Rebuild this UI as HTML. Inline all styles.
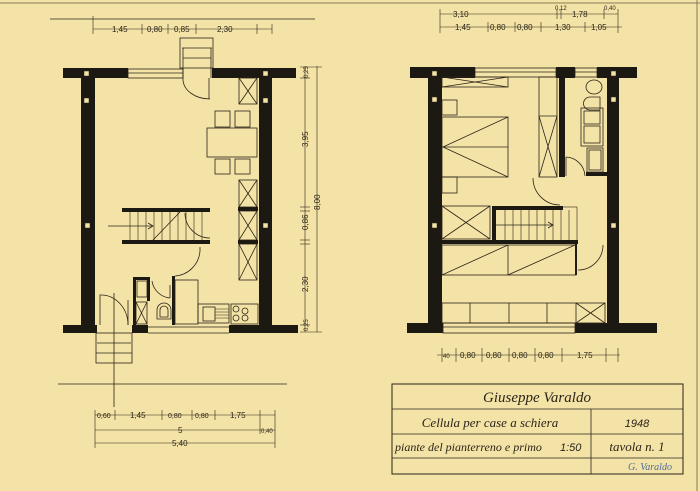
<!DOCTYPE html>
<html><head><meta charset="utf-8">
<style>
html,body{margin:0;padding:0;background:#f4e3a7;}
svg{display:block}
text{font-family:"Liberation Sans",sans-serif;fill:#2a2418}
.s{font-family:"Liberation Serif",serif;font-style:italic}
</style></head><body>
<svg width="700" height="491" viewBox="0 0 700 491" xmlns="http://www.w3.org/2000/svg">
<rect width="700" height="491" fill="#f4e3a7"/>
<line x1="0" y1="3" x2="700" y2="3" stroke="#8a7a55" stroke-width="1"/>
<line x1="697" y1="0" x2="697" y2="491" stroke="#8a7a55" stroke-width="1"/>

<g stroke="#2a2418" fill="none" stroke-width="0.8">
<!-- ================= LEFT PLAN ================= -->
<!-- walls -->
<g fill="#1c1812" stroke="none">
<rect x="63" y="68" width="65" height="10"/>
<rect x="212" y="68" width="84" height="10"/>
<rect x="81" y="68" width="14" height="265"/>
<rect x="259" y="68" width="13" height="265"/>
<rect x="63" y="325" width="34" height="8"/>
<rect x="132" y="325" width="16" height="8"/>
<rect x="229" y="325" width="69" height="8"/>
<rect x="238" y="207" width="20" height="4"/>
<rect x="238" y="240" width="20" height="4"/>
<rect x="122" y="208" width="88" height="4"/>
<rect x="122" y="240" width="88" height="4"/>
<rect x="133" y="277" width="17" height="3"/>
<rect x="133" y="277" width="3" height="48"/>
<rect x="147" y="277" width="3" height="24"/>
<rect x="172" y="276" width="3" height="49"/>
</g>
<g fill="#f4e3a7" stroke="#2a2418" stroke-width="0.5">
<rect x="84" y="71" width="5" height="5"/><rect x="263" y="71" width="5" height="5"/>
<rect x="84" y="98" width="5" height="5"/><rect x="263" y="98" width="5" height="5"/>
<rect x="85" y="223" width="5" height="5"/><rect x="263" y="223" width="5" height="5"/>
</g>
<!-- window top -->
<rect x="128" y="69" width="55" height="9"/>
<line x1="128" y1="73" x2="183" y2="73"/>
<!-- entrance top steps -->
<rect x="180" y="38" width="33" height="30"/>
<line x1="182" y1="48" x2="212" y2="48"/><line x1="183" y1="58" x2="211" y2="58"/>
<line x1="183" y1="48" x2="183" y2="78"/><line x1="211" y1="48" x2="211" y2="78"/>
<path d="M183 78 L183 80 A27 20 0 0 0 210 99"/>
<line x1="209" y1="78" x2="209" y2="99"/>
<!-- cabinets right -->
<rect x="239" y="78" width="18" height="26"/><path d="M239 78 L257 104 M257 78 L239 104"/>
<rect x="239" y="180" width="18" height="27"/><path d="M239 180 L257 207 M257 180 L239 207"/>
<rect x="239" y="211" width="18" height="29"/><path d="M239 211 L257 240 M257 211 L239 240"/>
<rect x="239" y="244" width="18" height="36"/><path d="M239 244 L257 280 M257 244 L239 280"/>
<!-- table & chairs -->
<rect x="207" y="128" width="50" height="29"/>
<rect x="215" y="111" width="15" height="16"/><rect x="235" y="111" width="15" height="16"/>
<rect x="215" y="159" width="15" height="15"/><rect x="235" y="159" width="15" height="15"/>
<!-- stair -->
<g stroke-width="0.6">
<line x1="130" y1="212" x2="130" y2="240"/><line x1="138" y1="212" x2="138" y2="240"/>
<line x1="146" y1="212" x2="146" y2="240"/><line x1="154" y1="212" x2="154" y2="240"/>
<line x1="162" y1="212" x2="162" y2="240"/><line x1="170" y1="212" x2="170" y2="240"/>
<line x1="178" y1="212" x2="178" y2="240"/><line x1="186" y1="212" x2="186" y2="240"/>
<line x1="194" y1="212" x2="194" y2="240"/><line x1="202" y1="212" x2="202" y2="240"/>
</g>
<line x1="108" y1="226" x2="153" y2="226"/><path d="M148 223 L153 226 L148 229"/>
<line x1="153" y1="240" x2="180" y2="212"/>
<path d="M185 213 A25 25 0 0 0 210 238"/>
<!-- lower door -->
<path d="M175 276 A27 27 0 0 0 200 251"/><line x1="200" y1="251" x2="200" y2="247"/>
<!-- WC -->
<rect x="137" y="281" width="10" height="16"/>
<rect x="136" y="302" width="11" height="22"/><path d="M136 302 L147 324 M147 302 L136 324"/>
<path d="M152 281 A20 20 0 0 0 170 298"/><line x1="170" y1="285" x2="170" y2="298"/>
<path d="M157 319 L157 310 A7 7 0 0 1 171 310 L171 319 Z"/>
<path d="M160 317 L160 310 A4 4 0 0 1 168 310 L168 317 Z"/>
<!-- kitchen -->
<rect x="175" y="280" width="23" height="44"/>
<rect x="198" y="304" width="31" height="19"/>
<rect x="203" y="307" width="12" height="14"/>
<g stroke-width="0.5"><line x1="215" y1="309" x2="229" y2="309"/><line x1="215" y1="312" x2="229" y2="312"/><line x1="215" y1="315" x2="229" y2="315"/><line x1="215" y1="318" x2="229" y2="318"/></g>
<rect x="231" y="304" width="27" height="20"/>
<circle cx="236" cy="309" r="3"/><circle cx="245" cy="311" r="3"/><circle cx="236" cy="318" r="3"/><circle cx="245" cy="318" r="3"/>
<line x1="148" y1="327" x2="229" y2="327"/><line x1="148" y1="333" x2="229" y2="333"/>
<!-- entrance lower -->
<path d="M100 325 L100 295 A27 30 0 0 1 128 325"/>
<line x1="128" y1="300" x2="128" y2="325"/>
<rect x="96" y="333" width="36" height="30"/>
<line x1="97" y1="343" x2="131" y2="343"/><line x1="96" y1="353" x2="132" y2="353"/>
<line x1="114" y1="293" x2="114" y2="407"/>
<line x1="58" y1="384" x2="287" y2="384"/>
<!-- dims top-left -->
<line x1="50" y1="19" x2="315" y2="19"/>
<line x1="93" y1="29" x2="272" y2="29" stroke-width="0.6"/>
<g stroke-width="0.6">
<line x1="93" y1="16" x2="93" y2="34"/><line x1="142" y1="24" x2="142" y2="34"/><line x1="168" y1="24" x2="168" y2="34"/><line x1="196" y1="24" x2="196" y2="34"/><line x1="257" y1="24" x2="257" y2="34"/><line x1="272" y1="24" x2="272" y2="34"/>
</g>
<!-- dims right vertical -->
<line x1="305" y1="66" x2="305" y2="332" stroke-width="0.6"/>
<line x1="317" y1="66" x2="317" y2="332" stroke-width="0.6"/>
<g stroke-width="0.6"><line x1="300" y1="67" x2="322" y2="67"/><line x1="300" y1="78" x2="310" y2="78"/><line x1="300" y1="207" x2="310" y2="207"/><line x1="300" y1="211" x2="310" y2="211"/><line x1="300" y1="240" x2="310" y2="240"/><line x1="300" y1="244" x2="310" y2="244"/><line x1="300" y1="325" x2="310" y2="325"/><line x1="300" y1="332" x2="322" y2="332"/></g>
<!-- dims bottom -->
<g stroke-width="0.6">
<line x1="95" y1="415" x2="275" y2="415"/><line x1="95" y1="430" x2="275" y2="430"/><line x1="95" y1="443" x2="275" y2="443"/>
<line x1="95" y1="410" x2="95" y2="448"/><line x1="115" y1="410" x2="115" y2="420"/><line x1="162" y1="410" x2="162" y2="420"/><line x1="192" y1="410" x2="192" y2="420"/><line x1="215" y1="410" x2="215" y2="420"/><line x1="260" y1="410" x2="260" y2="434"/><line x1="275" y1="410" x2="275" y2="448"/>
</g>

<!-- ================= RIGHT PLAN ================= -->
<g fill="#1c1812" stroke="none">
<rect x="410" y="67" width="65" height="11"/>
<rect x="556" y="67" width="19" height="11"/>
<rect x="597" y="67" width="40" height="11"/>
<rect x="428" y="67" width="14" height="266"/>
<rect x="607" y="67" width="12" height="266"/>
<rect x="559" y="77" width="6" height="100"/>
<rect x="586" y="172" width="21" height="4"/>
<rect x="407" y="323" width="36" height="10"/>
<rect x="575" y="323" width="82" height="10"/>
<rect x="492" y="206" width="71" height="4"/>
<rect x="492" y="206" width="4" height="36"/>
<rect x="442" y="240" width="136" height="4"/>
<rect x="575" y="244" width="2" height="31"/>
</g>
<g fill="#f4e3a7" stroke="#2a2418" stroke-width="0.5">
<rect x="432" y="71" width="5" height="5"/><rect x="611" y="71" width="5" height="5"/>
<rect x="432" y="97" width="5" height="5"/><rect x="611" y="97" width="5" height="5"/>
<rect x="432" y="223" width="5" height="5"/><rect x="611" y="223" width="5" height="5"/>
</g>
<rect x="475" y="68" width="81" height="9"/><line x1="475" y1="72" x2="556" y2="72"/>
<rect x="575" y="68" width="22" height="9"/><line x1="575" y1="72" x2="597" y2="72"/>
<!-- bedroom -->
<rect x="442" y="77" width="66" height="10"/><path d="M442 77 L508 87 M508 77 L442 87"/>
<rect x="442" y="100" width="15" height="15"/>
<rect x="442" y="117" width="66" height="60"/><line x1="442" y1="147" x2="508" y2="147"/>
<path d="M508 117 L443 147 L508 177"/>
<rect x="442" y="177" width="15" height="16"/>
<rect x="539" y="77" width="18" height="100"/><line x1="539" y1="116" x2="557" y2="116"/>
<path d="M539 116 L557 177 M557 116 L539 177"/>
<path d="M533 178 A27 27 0 0 0 560 205"/>
<!-- bath -->
<ellipse cx="594" cy="87" rx="8" ry="7"/>
<path d="M600 110 L590 110 A6 6 0 0 1 590 97 L600 97 Z"/>
<rect x="581" y="108" width="22" height="38"/><rect x="584" y="111" width="16" height="13"/><rect x="584" y="126" width="16" height="17"/>
<rect x="587" y="148" width="16" height="24"/><rect x="589" y="150" width="12" height="20"/>
<path d="M566 157 A20 20 0 0 1 585 176"/><line x1="566" y1="157" x2="566" y2="176"/>
<!-- lower -->
<rect x="442" y="206" width="48" height="33"/><path d="M442 206 L490 239 M490 206 L442 239"/>
<g stroke-width="0.6">
<line x1="505" y1="210" x2="505" y2="240"/><line x1="513" y1="210" x2="513" y2="240"/><line x1="521" y1="210" x2="521" y2="240"/><line x1="529" y1="210" x2="529" y2="240"/><line x1="537" y1="210" x2="537" y2="240"/><line x1="545" y1="210" x2="545" y2="240"/><line x1="553" y1="210" x2="553" y2="240"/><line x1="561" y1="210" x2="561" y2="240"/><line x1="569" y1="210" x2="569" y2="240"/><line x1="577" y1="207" x2="577" y2="240"/>
<line x1="563" y1="207" x2="577" y2="207"/>
</g>
<line x1="496" y1="225" x2="553" y2="225"/><path d="M548 222 L553 225 L548 228"/>
<rect x="442" y="245" width="134" height="30"/><line x1="508" y1="245" x2="508" y2="275"/>
<path d="M442 275 L508 245 M508 275 L575 245"/>
<path d="M578 270 A25 25 0 0 0 603 245"/>
<rect x="442" y="303" width="163" height="20"/>
<line x1="470" y1="303" x2="470" y2="323"/><line x1="509" y1="303" x2="509" y2="323"/><line x1="547" y1="303" x2="547" y2="323"/><line x1="576" y1="303" x2="576" y2="323"/>
<path d="M576 303 L605 323 M605 303 L576 323"/>
<rect x="443" y="323" width="132" height="10"/><line x1="443" y1="327" x2="575" y2="327"/>
<!-- dims top right -->
<g stroke-width="0.6">
<line x1="440" y1="14" x2="618" y2="14"/><line x1="440" y1="27" x2="622" y2="27"/>
<line x1="440" y1="9" x2="440" y2="33"/><line x1="557" y1="9" x2="557" y2="19"/><line x1="561" y1="9" x2="561" y2="19"/><line x1="604" y1="9" x2="604" y2="19"/><line x1="618" y1="9" x2="618" y2="33"/>
<line x1="488" y1="22" x2="488" y2="32"/><line x1="515" y1="22" x2="515" y2="32"/><line x1="541" y1="22" x2="541" y2="32"/><line x1="585" y1="22" x2="585" y2="32"/>
<!-- dims bottom right -->
<line x1="437" y1="355" x2="620" y2="355"/>
<line x1="442" y1="348" x2="442" y2="362"/><line x1="456" y1="348" x2="456" y2="362"/><line x1="482" y1="348" x2="482" y2="362"/><line x1="509" y1="348" x2="509" y2="362"/><line x1="535" y1="348" x2="535" y2="362"/><line x1="562" y1="348" x2="562" y2="362"/><line x1="606" y1="348" x2="606" y2="362"/><line x1="618" y1="348" x2="618" y2="362"/>
</g>
<!-- title block -->
<rect x="392" y="384" width="291" height="90" stroke-width="1"/>
<line x1="392" y1="409" x2="683" y2="409"/><line x1="392" y1="434" x2="683" y2="434"/><line x1="392" y1="458" x2="683" y2="458"/>
<line x1="591" y1="409" x2="591" y2="474"/>
</g>

<!-- dimension texts -->
<g font-size="8">
<text x="112" y="32">1,45</text><text x="147" y="32">0,80</text><text x="174" y="32">0,85</text><text x="217" y="32">2,30</text>
<text x="453" y="17">3,10</text><text x="555" y="10" font-size="6">0,12</text><text x="572" y="17">1,78</text><text x="604" y="10" font-size="6">0,40</text>
<text x="455" y="30">1,45</text><text x="490" y="30">0,80</text><text x="517" y="30">0,80</text><text x="555" y="30">1,30</text><text x="591" y="30">1,05</text>
<text x="443" y="358" font-size="6">40</text><text x="460" y="358">0,80</text><text x="486" y="358">0,80</text><text x="512" y="358">0,80</text><text x="538" y="358">0,80</text><text x="577" y="358">1,75</text>
<text x="97" y="418" font-size="7">0,60</text><text x="130" y="418">1,45</text><text x="168" y="418" font-size="7">0,80</text><text x="195" y="418" font-size="7">0,80</text><text x="230" y="418">1,75</text>
<text x="178" y="433">5</text><text x="261" y="433" font-size="6">0,40</text><text x="172" y="446">5,40</text>
</g>
<g font-size="8">
<text transform="translate(308,147) rotate(-90)">3,95</text>
<text transform="translate(308,230) rotate(-90)">0,86</text>
<text transform="translate(308,292) rotate(-90)">2,30</text>
<text transform="translate(320,210) rotate(-90)">8,00</text>
<text transform="translate(308,331) rotate(-90)" font-size="6">0,25</text>
<text transform="translate(308,78) rotate(-90)" font-size="6">0,25</text>
</g>

<!-- title texts -->
<g class="s" font-size="13">
<text x="537" y="402" text-anchor="middle" class="s" font-size="15">Giuseppe Varaldo</text>
<text x="490" y="427" text-anchor="middle" class="s">Cellula per case a schiera</text>
<text x="637" y="427" text-anchor="middle" font-family="Liberation Sans" font-size="11">1948</text>
<text x="395" y="451" class="s" font-size="12">piante del pianterreno e primo</text>
<text x="560" y="451" font-family="Liberation Sans" font-size="11">1:50</text>
<text x="637" y="451" text-anchor="middle" class="s">tavola n. 1</text>
<text x="650" y="470" text-anchor="middle" class="s" font-size="10" style="fill:#4f6b98">G. Varaldo</text>
</g>
</svg>
</body></html>
